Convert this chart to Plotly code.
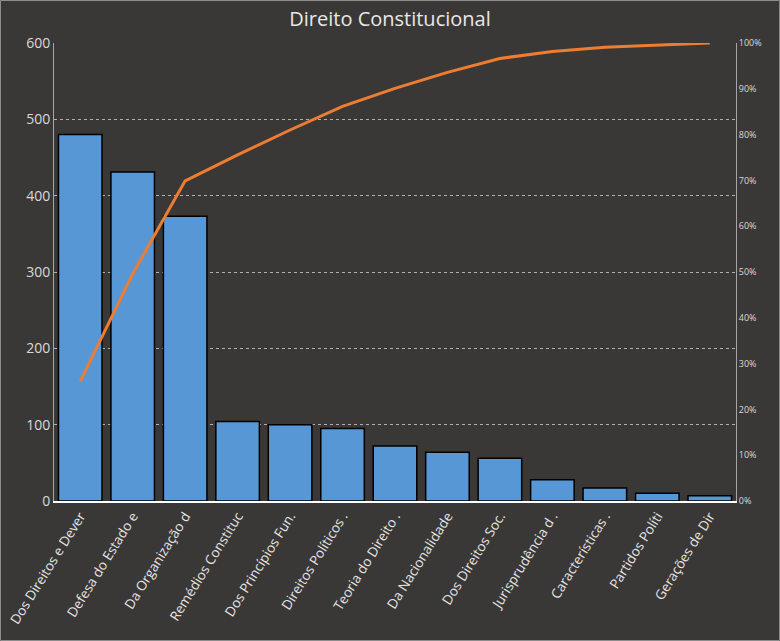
import plotly.graph_objects as go

# Pareto data
categorias = [
    "Dos Direitos e Dever", "Defesa do Estado e", "Da Organização d",
    "Remédios Constituc", "Dos Princípios Fun.", "Direitos Políticos .",
    "Teoria do Direito .", "Da Nacionalidade", "Dos Direitos Soc.",
    "Jurisprudência d .", "Características .", "Partidos Políti",
    "Gerações de Dir",
]
quantidades = [480, 431, 373, 104, 100, 95, 72, 64, 56, 28, 17, 10, 7]

total = sum(quantidades)
acumulado = []
soma = 0
for q in quantidades:
    soma += q
    acumulado.append(soma / total)

BG = "#3a3836"
GRID = "#b0b0b0"
TXT = "#d9d9d9"

fig = go.Figure()
fig.add_trace(go.Bar(
    x=categorias, y=quantidades,
    marker=dict(color="#5797d5", line=dict(color="#000000", width=1.5)),
    name="Quantidade",
))
fig.add_trace(go.Scatter(
    x=categorias, y=acumulado, yaxis="y2", mode="lines",
    line=dict(color="#ed7d31", width=3),
    name="Acumulado",
))

fig.update_layout(
    width=780, height=641,
    paper_bgcolor=BG, plot_bgcolor=BG,
    margin=dict(l=54, r=44, t=43, b=140),
    showlegend=False,
    bargap=0.17,
    title=dict(text="Direito Constitucional", x=0.5, xanchor="center", y=0.97, yanchor="middle",
               font=dict(family="Open Sans", size=20, color="#e8e8e8")),
    font=dict(family="Open Sans", color=TXT),
    xaxis=dict(
        tickangle=-58, tickfont=dict(size=13.5, color="#e6e6e6"),
        showline=True, linecolor="#ffffff", linewidth=2,
        showgrid=False, ticks="", automargin=False,
    ),
    yaxis=dict(
        range=[0, 600], dtick=100, tickfont=dict(size=14, color=TXT),
        showgrid=True, gridcolor=GRID, griddash="dot", gridwidth=1,
        showline=True, linecolor="#a6a6a6", linewidth=1,
        zeroline=False, ticks="", automargin=False,
    ),
    yaxis2=dict(
        overlaying="y", side="right", range=[0, 1], dtick=0.1, tickformat=".0%",
        tickfont=dict(size=9, color=TXT), showgrid=False,
        showline=True, linecolor="#a6a6a6", linewidth=1,
        zeroline=False, ticks="", automargin=False,
    ),
)

# thin frame around the whole chart
fig.add_shape(type="rect", xref="paper", yref="paper",
              x0=-53.5 / 682, x1=(682 + 43.5) / 682,
              y0=-139.5 / 458, y1=(458 + 42.5) / 458,
              line=dict(color="#8c8c8c", width=1))

# page body has a default 8px margin; drop it so the chart sits at 0,0
fig.write_html("out.html", config={"displayModeBar": False},
               post_script="document.body.style.margin='0';")
